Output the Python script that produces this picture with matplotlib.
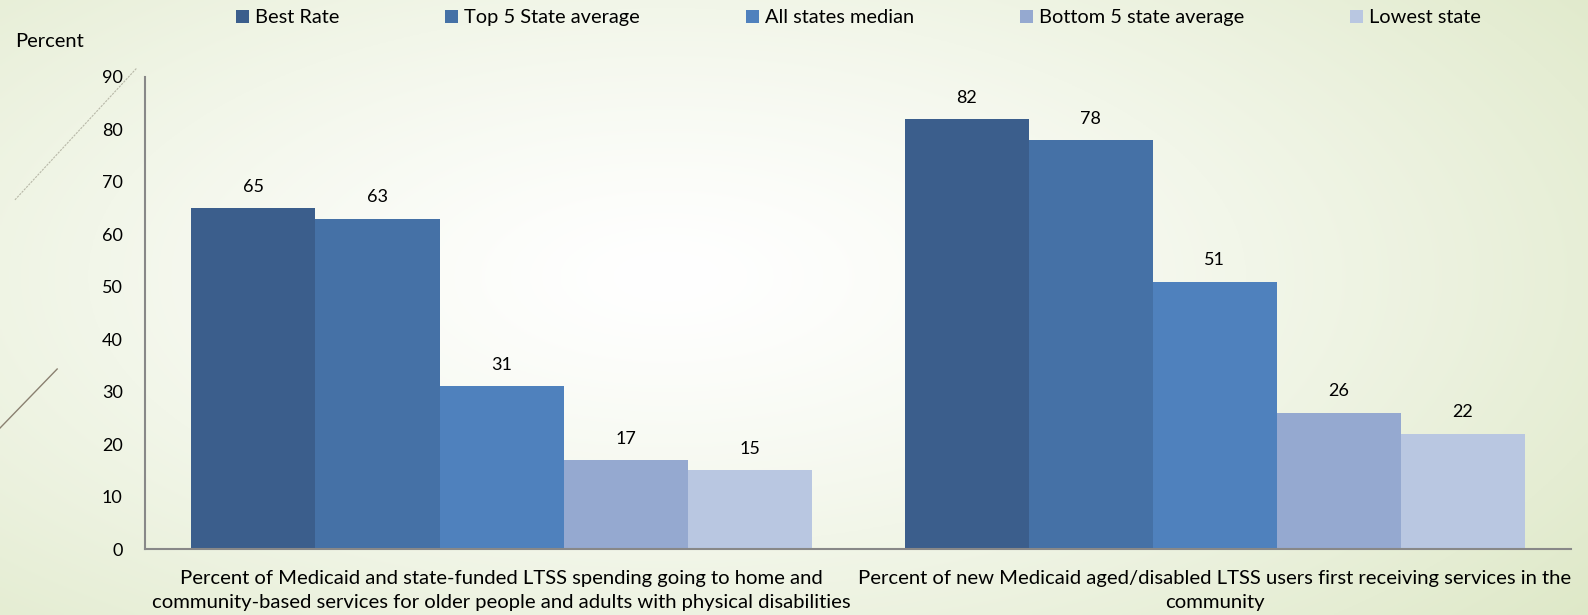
import numpy as np
import matplotlib.pyplot as plt
from matplotlib.lines import Line2D

plt.rcParams['font.family'] = ['Lato', 'DejaVu Sans']

categories = ['Percent of Medicaid and state-funded LTSS spending going to home and\n'
              'community-based services for older people and adults with physical disabilities',
              'Percent of new Medicaid aged/disabled LTSS users first receiving services in the\n'
              'community']
series = ['Best Rate', 'Top 5 State average', 'All states median', 'Bottom 5 state average', 'Lowest state']
values = {
    'Best Rate': [65, 82],
    'Top 5 State average': [63, 78],
    'All states median': [31, 51],
    'Bottom 5 state average': [17, 26],
    'Lowest state': [15, 22],
}
colors = ['#3B5E8C', '#4571A6', '#4F81BD', '#95A9D0', '#B9C7E1']

fig = plt.figure(figsize=(15.88, 6.15), dpi=100)

# background gradient
bg = fig.add_axes([0, 0, 1, 1], zorder=-10)
yy, xx = np.mgrid[0:1:300j, 0:1:600j]
r = np.sqrt(((xx - 0.42) / 0.75) ** 2 + ((yy - 0.45) / 0.9) ** 2)
r = np.clip(r, 0, 1)
white = np.array([1.0, 1.0, 1.0])
green = np.array([0.87, 0.91, 0.78])
img = white + (green - white) * r[..., None] ** 1.3
bg.imshow(img, aspect='auto', extent=[0, 1, 0, 1], origin='upper')
bg.axis('off')

# decorative lines on the left
fig.add_artist(Line2D([0.0094, 0.086], [0.675, 0.889], color='#b8b8a8', lw=0.8, ls=(0, (2, 1))))
fig.add_artist(Line2D([0.0, 0.036], [0.304, 0.400], color='#8a8070', lw=1.0))

ax = fig.add_axes([0.0913, 0.1073, 0.8983, 0.7675])
ax.patch.set_alpha(0)
x = np.arange(len(categories))
w = 0.174
for i, (s, c) in enumerate(zip(series, colors)):
    pos = x + (i - 2) * w
    bars = ax.bar(pos, values[s], width=w, color=c, label=s)
    for b, v in zip(bars, values[s]):
        ax.annotate(str(v), (b.get_x() + b.get_width() / 2, v), xytext=(0, 9.5),
                    textcoords='offset points', ha='center', va='bottom', fontsize=13)

ax.set_xlim(-0.5, 1.5)
ax.set_ylim(0, 90)
ax.set_yticks(range(0, 91, 10))
ax.set_xticks(x)
ax.set_xticklabels(categories, fontsize=14.6, linespacing=1.5)
ax.tick_params(axis='y', length=0, pad=16, labelsize=13)
ax.tick_params(axis='x', length=0, pad=15)
for sp in ['top', 'right']:
    ax.spines[sp].set_visible(False)
for sp in ['left', 'bottom']:
    ax.spines[sp].set_color('#888888')
    ax.spines[sp].set_linewidth(1.5)

fig.text(0.0094, 0.932, 'Percent', fontsize=14.5, va='center')

fig.legend(loc='center', bbox_to_anchor=(0.5406, 0.971), ncol=5, frameon=False, fontsize=14.4,
           handlelength=0.65, handleheight=0.65, handletextpad=0.3, columnspacing=5.3)

fig.savefig('out.png', dpi=100)
